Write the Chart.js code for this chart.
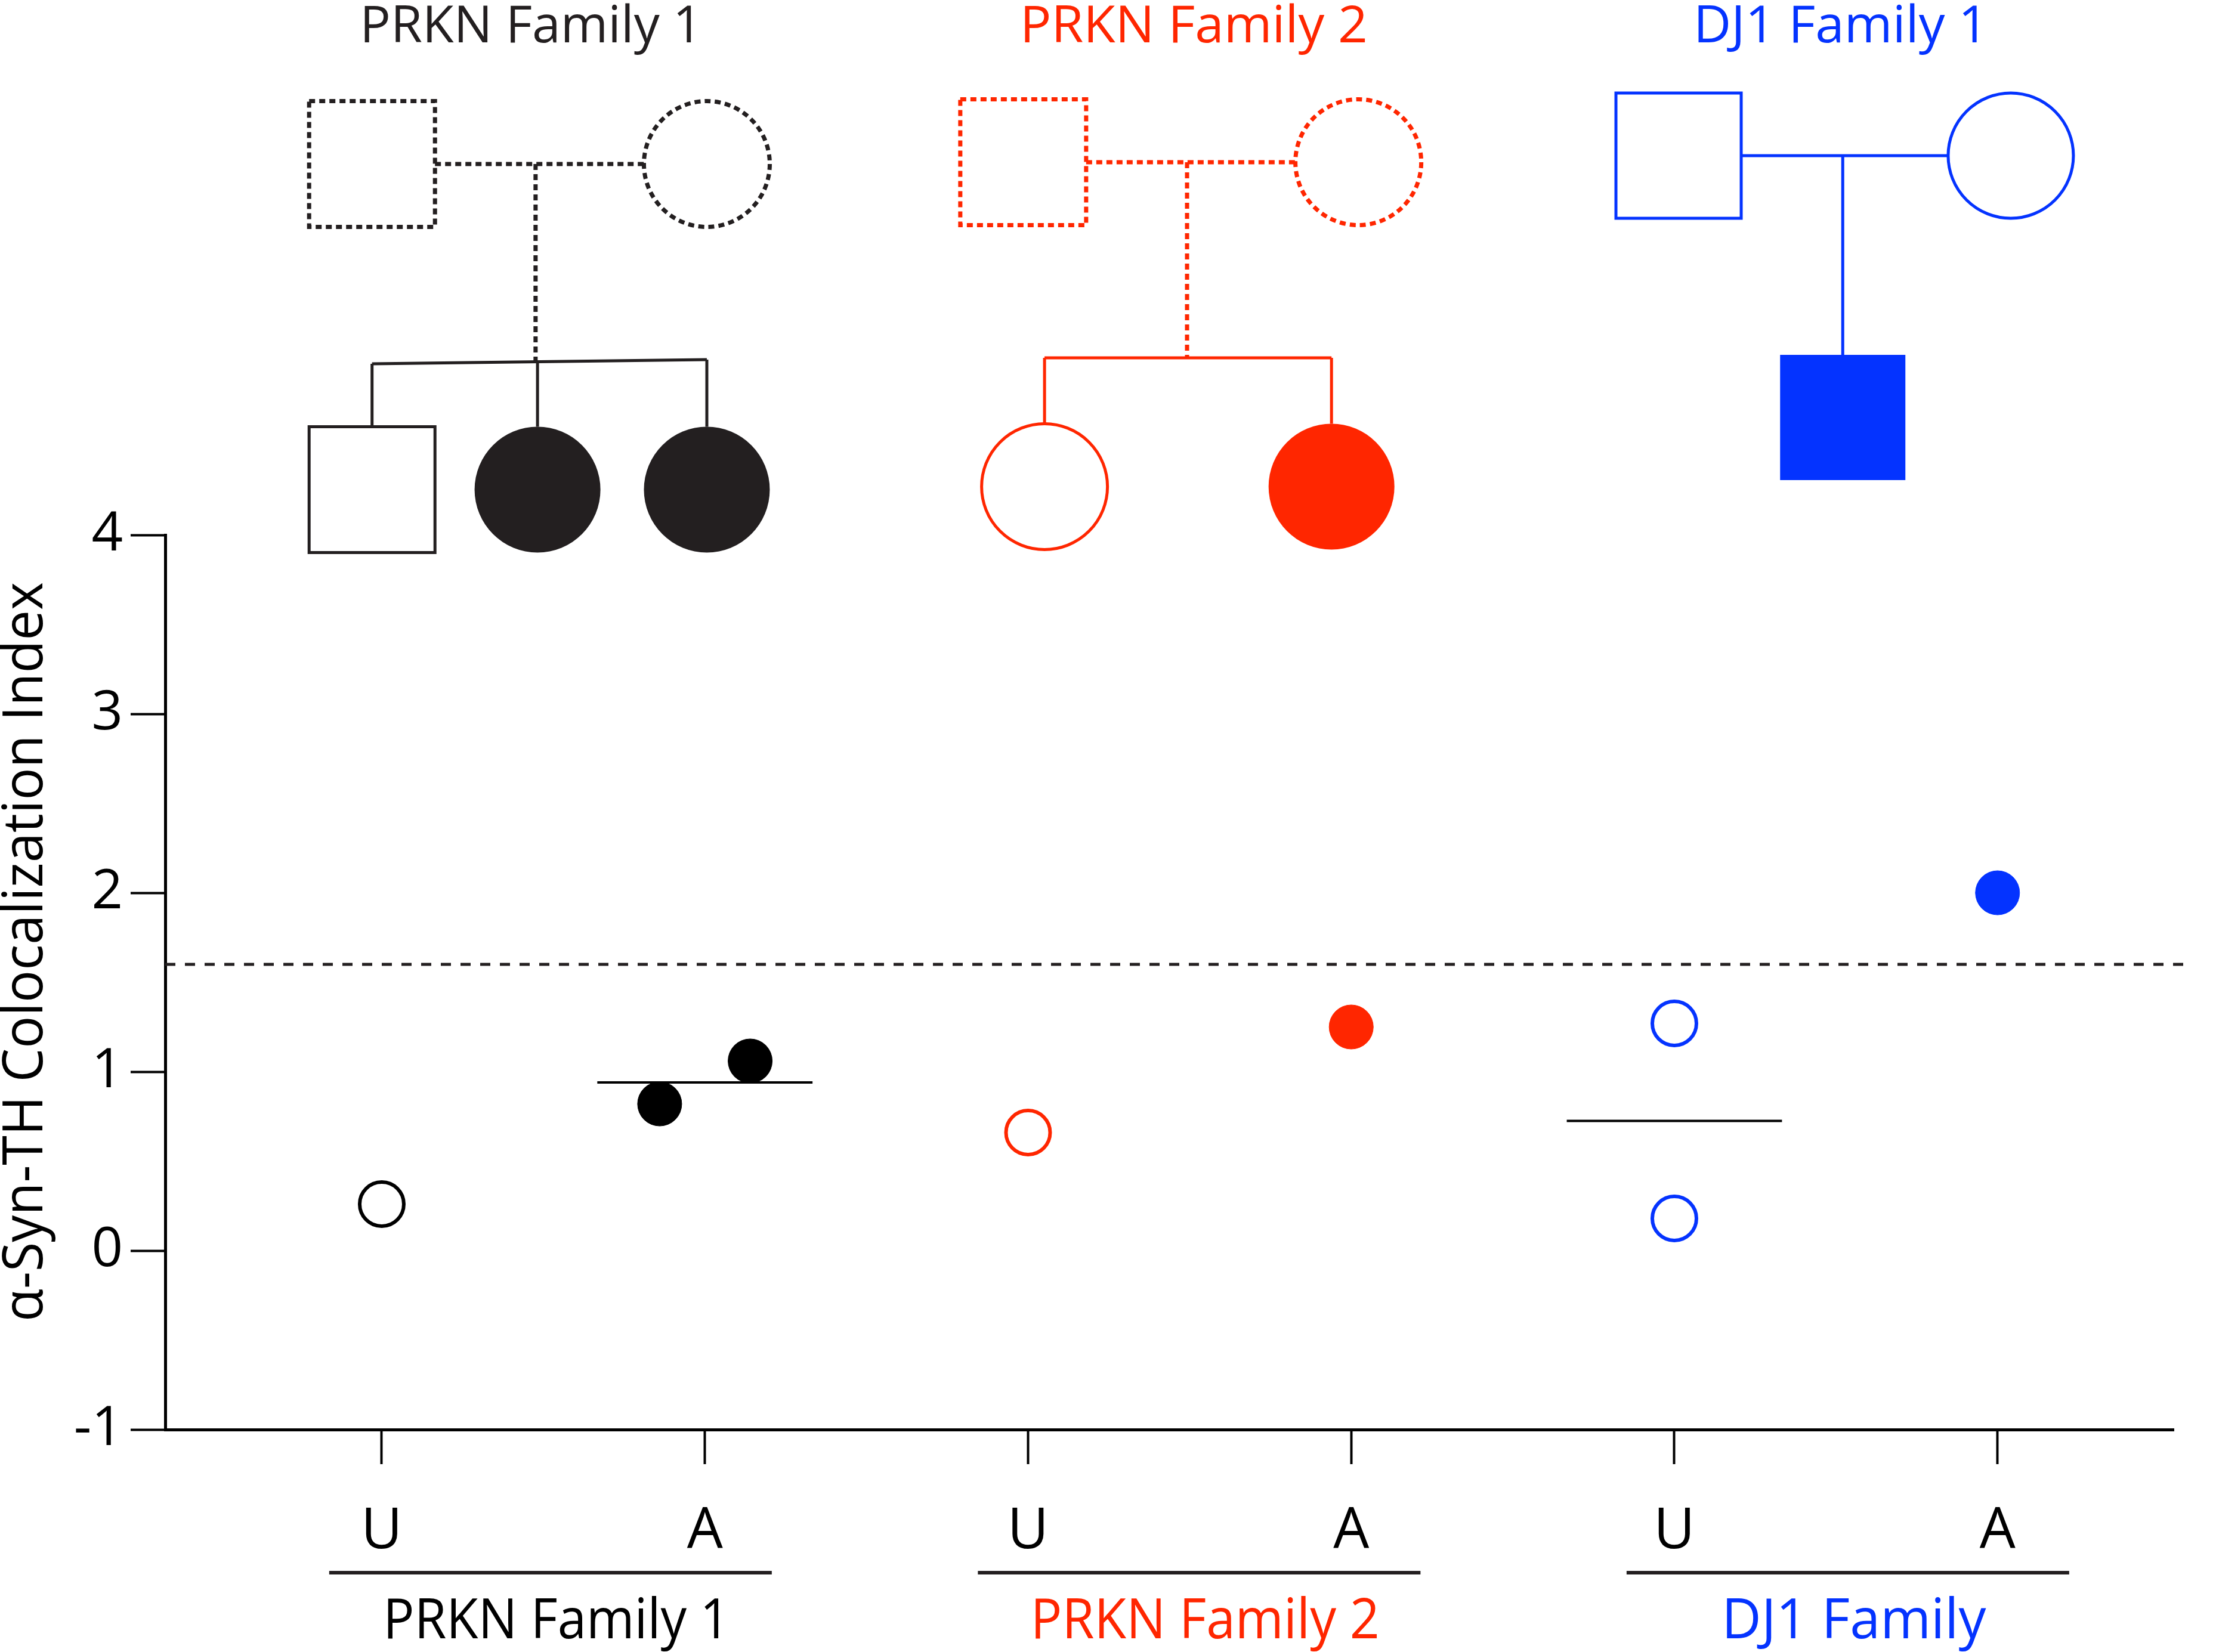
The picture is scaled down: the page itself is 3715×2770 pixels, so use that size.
<!DOCTYPE html>
<html>
<head>
<meta charset="utf-8">
<script src="https://cdn.jsdelivr.net/npm/chart.js@4.4.1/dist/chart.umd.min.js"></script>
<style>
  html, body { margin: 0; padding: 0; background: #fff; }
  canvas { display: block; }
</style>
</head>
<body>
<canvas id="myChart" width="3715" height="2770"></canvas>
<script>
// values
const categories = ['U', 'A', 'U', 'A', 'U', 'A'];
const groupLabels = ['PRKN Family 1', 'PRKN Family 2', 'DJ1 Family'];
const pedigreeTitles = ['PRKN Family 1', 'PRKN Family 2', 'DJ1 Family 1'];
const yTicks = [-1, 0, 1, 2, 3, 4];

const prkn1Unaffected = [0.26];
const prkn1Affected = [0.82, 1.06];
const prkn2Unaffected = [0.66];
const prkn2Affected = [1.25];
const dj1Unaffected = [1.27, 0.18];
const dj1Affected = [2.0];
const threshold = 1.6;

// horizontal spread of points within a column
const prkn1AffectedJitter = [-0.14, 0.14];

const BLACK = '#000000';
const INK = '#231F20';
const RED = '#FF2600';
const BLUE = '#0433FF';
const FONT = '"Open Sans", "Noto Sans", sans-serif';

function points(col, values, jitter) {
  return values.map((v, i) => ({ x: col + (jitter ? jitter[i] : 0), y: v }));
}
function mean(values) {
  return values.reduce((a, b) => a + b, 0) / values.length;
}
function meanLine(col, values) {
  let m = mean(values);
  return [{ x: col - 0.333, y: m }, { x: col + 0.333, y: m }];
}

function openSet(data, color) {
  return { type: 'scatter', data: data, pointRadius: 37, pointHoverRadius: 37,
    backgroundColor: '#fff', borderColor: color, borderWidth: 6 };
}
function filledSet(data, color) {
  return { type: 'scatter', data: data, pointRadius: 37, pointHoverRadius: 37,
    backgroundColor: color, borderColor: color, borderWidth: 1 };
}
function lineSet(data, color, width, dash) {
  return { type: 'line', data: data, borderColor: color, borderWidth: width,
    borderDash: dash || [], pointRadius: 0, clip: false, fill: false };
}

// pedigree drawings above the plot (x in axis units, y in px from the top)
const pedigrees = [
  { color: INK, fill: INK, dashed: true, title: pedigreeTitles[0], titleX: 0.462, titleW: 574,
    parentsY: 275, father: -0.03, mother: 1.006, stem: 0.476, sibY: [610, 603], childY: 821, size: 211,
    children: [{ u: -0.03, shape: 'square', filled: false }, { u: 0.482, shape: 'circle', filled: true },
               { u: 1.006, shape: 'circle', filled: true }] },
  { color: RED, fill: RED, dashed: true, title: pedigreeTitles[1], titleX: 2.513, titleW: 583,
    parentsY: 272, father: 1.985, mother: 3.022, stem: 2.492, sibY: [600, 600], childY: 816, size: 211,
    children: [{ u: 2.051, shape: 'circle', filled: false }, { u: 2.939, shape: 'circle', filled: true }] },
  { color: BLUE, fill: BLUE, dashed: false, title: pedigreeTitles[2], titleX: 4.515, titleW: 494,
    parentsY: 261, father: 4.013, mother: 5.041, stem: 4.521, sibY: null, childY: 700, size: 210,
    children: [{ u: 4.521, shape: 'square', filled: true }] }
];

function fitText(ctx, text, cx, y, size, targetW, color) {
  ctx.save();
  ctx.font = size + 'px ' + FONT;
  let w = ctx.measureText(text).width;
  ctx.translate(cx, y);
  ctx.scale(targetW / w, 1);
  ctx.fillStyle = color;
  ctx.textAlign = 'center';
  ctx.textBaseline = 'alphabetic';
  ctx.fillText(text, 0, 0);
  ctx.restore();
}

function drawSymbol(ctx, shape, cx, cy, size, color, filled, dashed) {
  ctx.save();
  ctx.lineWidth = dashed ? 7 : 5;
  ctx.strokeStyle = color;
  ctx.fillStyle = color;
  ctx.setLineDash(dashed ? [10, 7] : []);
  ctx.beginPath();
  if (shape === 'square') {
    ctx.rect(cx - size / 2, cy - size / 2, size, size);
  } else {
    ctx.arc(cx, cy, size / 2, 0, Math.PI * 2);
  }
  if (filled) ctx.fill();
  else ctx.stroke();
  ctx.restore();
}

function line(ctx, x1, y1, x2, y2, color, dashed) {
  ctx.save();
  ctx.lineWidth = dashed ? 7 : 5;
  ctx.strokeStyle = color;
  ctx.setLineDash(dashed ? [10, 7] : []);
  ctx.beginPath();
  ctx.moveTo(x1, y1);
  ctx.lineTo(x2, y2);
  ctx.stroke();
  ctx.restore();
}

const extrasPlugin = {
  id: 'extras',
  afterDraw(chart) {
    const ctx = chart.ctx;
    const xs = chart.scales.x;
    const X = u => xs.getPixelForValue(u);

    // pedigrees
    pedigrees.forEach(p => {
      fitText(ctx, p.title, X(p.titleX), 71, 86, p.titleW, p.color);
      let half = p.size / 2;
      drawSymbol(ctx, 'square', X(p.father), p.parentsY, p.size, p.color, false, p.dashed);
      drawSymbol(ctx, 'circle', X(p.mother), p.parentsY, p.size, p.color, false, p.dashed);
      line(ctx, X(p.father) + half, p.parentsY, X(p.mother) - half, p.parentsY, p.color, p.dashed);
      let top = p.childY - half;
      if (p.sibY) {
        let xl = X(p.children[0].u), xr = X(p.children[p.children.length - 1].u);
        let sibAt = x => p.sibY[0] + (p.sibY[1] - p.sibY[0]) * (x - xl) / (xr - xl);
        line(ctx, X(p.stem), p.parentsY, X(p.stem), sibAt(X(p.stem)), p.color, p.dashed);
        line(ctx, xl, p.sibY[0], xr, p.sibY[1], p.color, false);
        p.children.forEach(c => {
          line(ctx, X(c.u), sibAt(X(c.u)), X(c.u), top, p.color, false);
        });
      } else {
        line(ctx, X(p.stem), p.parentsY, X(p.stem), top, p.color, p.dashed);
      }
      p.children.forEach(c => {
        drawSymbol(ctx, c.shape, X(c.u), p.childY, p.size, p.color, c.filled, false);
      });
    });

    // group underlines and labels below the x axis
    const groupColors = [BLACK, RED, BLUE];
    const groupWidths = [581, 585, 443];
    groupLabels.forEach((g, k) => {
      let cx = (X(2 * k) + X(2 * k + 1)) / 2 + 12 + k * 4;
      ctx.save();
      ctx.fillStyle = INK;
      ctx.fillRect(cx - 371, 2634, 742, 6);
      ctx.restore();
      fitText(ctx, g, cx + 10, 2747, 94, groupWidths[k], groupColors[k]);
    });

    // y axis title
    ctx.save();
    ctx.translate(71, 1596);
    ctx.rotate(-Math.PI / 2);
    ctx.font = '94px ' + FONT;
    let t = 'α-Syn-TH Colocalization Index';
    let w = ctx.measureText(t).width;
    ctx.scale(1240 / w, 1);
    ctx.fillStyle = BLACK;
    ctx.textAlign = 'center';
    ctx.textBaseline = 'alphabetic';
    ctx.fillText(t, 0, 0);
    ctx.restore();
  }
};

const chartCtx = document.getElementById('myChart').getContext('2d');

new Chart(chartCtx, {
  data: {
    datasets: [
      openSet(points(0, prkn1Unaffected), BLACK),
      filledSet(points(1, prkn1Affected, prkn1AffectedJitter), BLACK),
      openSet(points(2, prkn2Unaffected), RED),
      filledSet(points(3, prkn2Affected), RED),
      openSet(points(4, dj1Unaffected), BLUE),
      filledSet(points(5, dj1Affected), BLUE),
      lineSet(meanLine(1, prkn1Affected), BLACK, 4),
      lineSet(meanLine(4, dj1Unaffected), BLACK, 4),
      lineSet([{ x: -0.67, y: threshold }, { x: 5.58, y: threshold }], INK, 5, [17, 16])
    ]
  },
  options: {
    responsive: false,
    animation: false,
    devicePixelRatio: 1,
    layout: { padding: { top: 897, right: 71, left: 0, bottom: 0 } },
    plugins: {
      legend: { display: false },
      tooltip: { enabled: false }
    },
    scales: {
      x: {
        type: 'linear',
        min: -0.67,
        max: 5.545,
        afterBuildTicks: axis => { axis.ticks = categories.map((c, i) => ({ value: i })); },
        afterFit: axis => { axis.height = 373; },
        grid: { drawOnChartArea: false, drawTicks: true, tickLength: 58, tickWidth: 4, tickColor: BLACK },
        border: { display: true, width: 5, color: BLACK },
        ticks: {
          callback: v => categories[v],
          font: { family: FONT, size: 95 },
          color: BLACK,
          padding: 57,
          maxRotation: 0,
          autoSkip: false
        }
      },
      y: {
        type: 'linear',
        min: -1,
        max: 4,
        afterBuildTicks: axis => { axis.ticks = yTicks.map(v => ({ value: v })); },
        afterFit: axis => { axis.width = 277; },
        grid: { drawOnChartArea: false, drawTicks: true, tickLength: 58, tickWidth: 4, tickColor: BLACK },
        border: { display: true, width: 5, color: BLACK },
        ticks: {
          callback: v => (v < 0 ? '-' + Math.abs(v) : String(v)),
          font: { family: FONT, size: 92 },
          color: BLACK,
          padding: 13
        }
      }
    }
  },
  plugins: [extrasPlugin]
});
</script>
</body>
</html>
